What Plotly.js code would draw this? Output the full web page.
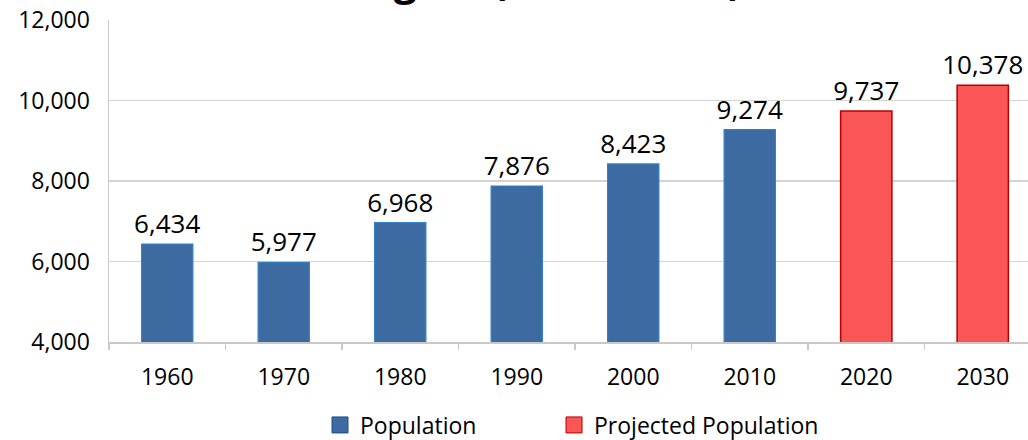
<!DOCTYPE html>
<html>
<head>
<meta charset="utf-8">
<script src="https://cdn.plot.ly/plotly-3.0.1.min.js"></script>
<style>
html,body{margin:0;padding:0;overflow:hidden;background:#fff;width:1028px;height:440px;}
#chart{position:absolute;left:0;top:-60px;width:1060px;height:500px;}
</style>
</head>
<body>
<div id="chart"></div>
<script>
const years = ["1960","1970","1980","1990","2000","2010","2020","2030"];
const popYears = ["1960","1970","1980","1990","2000","2010"];
const popValues = [6434, 5977, 6968, 7876, 8423, 9274];
const projYears = ["2020","2030"];
const projValues = [9737, 10378];
const yTicks = [4000, 6000, 8000, 10000, 12000];
const titleText = "Region (1960 - 2030)";

const FONT = "'Open Sans', sans-serif";
const BLUE = "#3d6aa1", BLUE_EDGE = "#2f80c8";
const RED = "#fa5656", RED_EDGE = "#b50000";

const labelTpl = "%{y:,}";

const traces = [
  {
    type: "bar", name: "Population", x: popYears, y: popValues, showlegend: false,
    marker: {color: BLUE, line: {color: BLUE_EDGE, width: 1.2}},
    texttemplate: labelTpl, textposition: "outside", cliponaxis: false, constraintext: "none",
    textfont: {family: FONT, size: 26, color: "#000"},
    hoverinfo: "skip"
  },
  {
    type: "bar", name: "Projected Population", x: projYears, y: projValues, showlegend: false,
    marker: {color: RED, line: {color: RED_EDGE, width: 1.5}},
    texttemplate: labelTpl, textposition: "outside", cliponaxis: false, constraintext: "none",
    textfont: {family: FONT, size: 26, color: "#000"},
    hoverinfo: "skip"
  },
  {
    type: "scatter", mode: "markers", name: "Population", x: [null], y: [null], legend: "legend",
    marker: {symbol: "square", size: 16, color: BLUE, line: {color: "#1f4e80", width: 1}},
    hoverinfo: "skip"
  },
  {
    type: "scatter", mode: "markers", name: "Projected Population", x: [null], y: [null], legend: "legend2",
    marker: {symbol: "square", size: 16, color: RED, line: {color: RED_EDGE, width: 1}},
    hoverinfo: "skip"
  }
];

const legendBase = {
  orientation: "h", xref: "paper", xanchor: "left",
  yref: "container", y: 0.03, yanchor: "middle",
  font: {family: FONT, size: 23, color: "#000"}, itemclick: false, itemdoubleclick: false
};

const layout = {
  width: 1060, height: 500,
  margin: {l: 109, r: 19, t: 80, b: 98},
  paper_bgcolor: "#fff", plot_bgcolor: "#fff",
  font: {family: FONT, size: 23, color: "#000"},
  title: {text: "<b>" + titleText + "</b>", font: {family: FONT, size: 41, color: "#000"},
          xref: "paper", x: 0.465, xanchor: "center", yref: "container", y: 0.918, yanchor: "middle"},
  barmode: "overlay", bargap: 0.56,
  xaxis: {
    type: "category", categoryorder: "array", categoryarray: years,
    showline: true, linecolor: "#c8c8c8", linewidth: 1.5,
    ticks: "outside", ticklen: 6, tickcolor: "#c8c8c8", tickwidth: 1.5, tickson: "boundaries",
    showgrid: false, tickfont: {family: FONT, size: 23, color: "#000"},
    ticklabelstandoff: 14, fixedrange: true
  },
  yaxis: {
    range: [4000, 12000], tickvals: yTicks, tickformat: ",d",
    showgrid: true, gridcolor: "#d4d4d4", gridwidth: 1.2,
    showline: true, linecolor: "#c8c8c8", linewidth: 1.5,
    ticks: "", zeroline: false, ticklabelstandoff: 13,
    tickfont: {family: FONT, size: 23, color: "#000"}, fixedrange: true
  },
  showlegend: true,
  legend: Object.assign({}, legendBase, {x: 0.2264}),
  legend2: Object.assign({}, legendBase, {x: 0.4775})
};

Plotly.newPlot("chart", traces, layout, {displayModeBar: false, staticPlot: true});
</script>
</body>
</html>
